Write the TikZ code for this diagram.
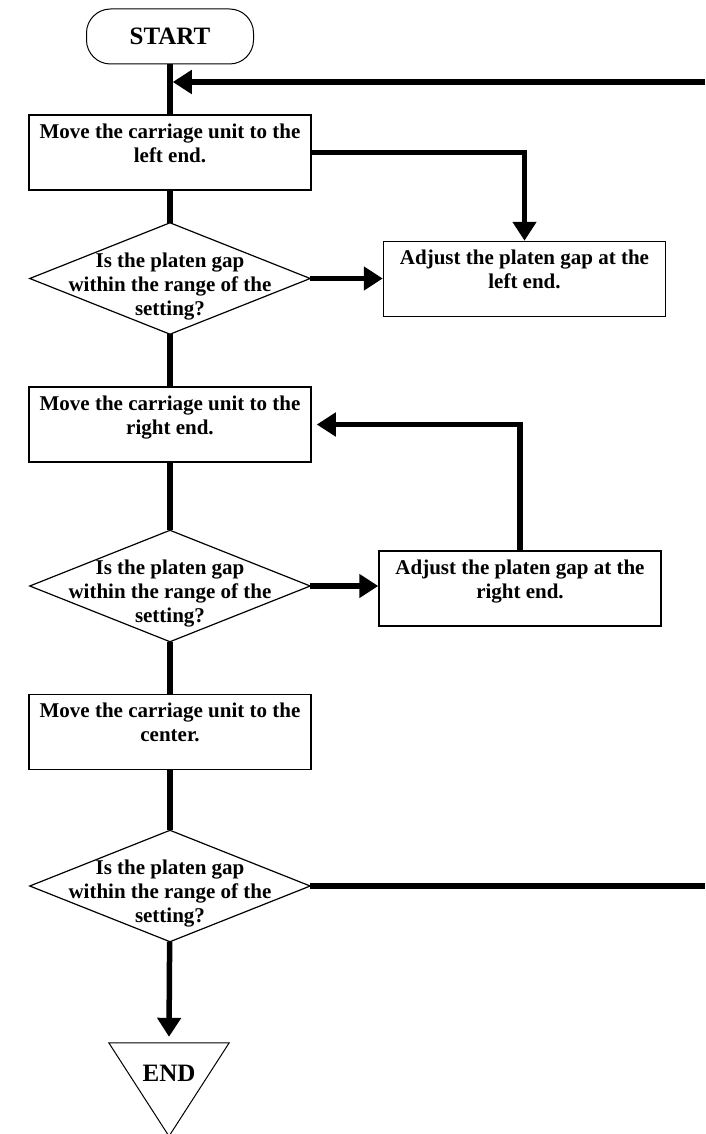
\documentclass[tikz,border=0pt]{standalone}
\usepackage{fontspec}
\setmainfont{Liberation Serif}
\usepackage{tikz}
\usetikzlibrary{arrows.meta,positioning}

\newcommand{\toppad}{\rule{0pt}{30pt}}

\begin{document}
\begin{tikzpicture}[
    x=1pt, y=-1pt,
    every node/.style={font=\fontsize{21}{24}\selectfont\bfseries},
    terminal/.style={draw, line width=1pt, rounded corners=24pt, minimum width=167pt, minimum height=55pt, font=\fontsize{25}{30}\selectfont\bfseries},
    process/.style={draw, line width=1.5pt, minimum width=282pt, minimum height=75pt, inner sep=0pt, align=center, execute at end node={\rule[-19pt]{0pt}{0pt}}},
    decision/.style={minimum width=280pt, minimum height=111pt, inner sep=0pt, align=center},
    finish/.style={minimum width=120pt, minimum height=60pt, inner sep=0pt, font=\fontsize{25}{30}\selectfont\bfseries},
    flow/.style={line width=5.5pt},
    flowarrow/.style={flow, -{Triangle[length=19pt,width=23pt]}}
]
\useasboundingbox (0,0) rectangle (705,1134);

% steps
\node[terminal] (start) at (170,36.5) {START};
\node[process] (moveL) at (170,152.5) {Move the carriage unit to the\\left end.};
\node[decision] (chkL) at (170,278.5) {\toppad Is the platen gap\\within the range of the\\setting?};
\node[process] (adjL) at (524.5,279) {Adjust the platen gap at the\\left end.};
\node[process] (moveR) at (170,424.5) {Move the carriage unit to the\\right end.};
\node[decision] (chkR) at (170,586) {\toppad Is the platen gap\\within the range of the\\setting?};
\node[process] (adjR) at (520,588.5) {Adjust the platen gap at the\\right end.};
\node[process] (moveC) at (170,732) {Move the carriage unit to the\\center.};
\node[decision] (chkC) at (170,886) {\toppad Is the platen gap\\within the range of the\\setting?};
\node[finish] (fin) at (169,1073) {END};

% outlines of the diamonds and the end triangle
\foreach \d in {chkL,chkR,chkC}
    \draw[line width=1.2pt] (\d.north) -- (\d.east) -- (\d.south) -- (\d.west) -- cycle;
\draw[line width=1pt] (fin.north west) -- (fin.north east) -- ([yshift=-33pt]fin.south) -- cycle;

% main line
\draw[flow] (start) -- (moveL);
\draw[flow] (moveL) -- (chkL);
\draw[flow] (chkL) -- (moveR);
\draw[flow] (moveR) -- (chkR);
\draw[flow] (chkR) -- (moveC);
\draw[flow] (moveC) -- (chkC);
\draw[flowarrow] (chkC) -- ([yshift=6pt]fin.north);

% side branches
\draw[flowarrow] (moveL.east) -| (adjL.north);
\draw[flowarrow] (chkL.east) -- (chkL.east -| adjL.west);
\draw[flowarrow] (chkR.east) -- (chkR.east -| adjR.west);
\draw[flowarrow] (adjR.north) |- ([xshift=5pt]moveR.east);

% return loop
\coordinate (loopin) at (705,82);
\coordinate (loopout) at (705,886);
\draw[flow] (chkC.east) -- (loopout);
\draw[flowarrow] (loopin) -- ([xshift=2.75pt]start.south |- loopin);
\end{tikzpicture}
\end{document}
